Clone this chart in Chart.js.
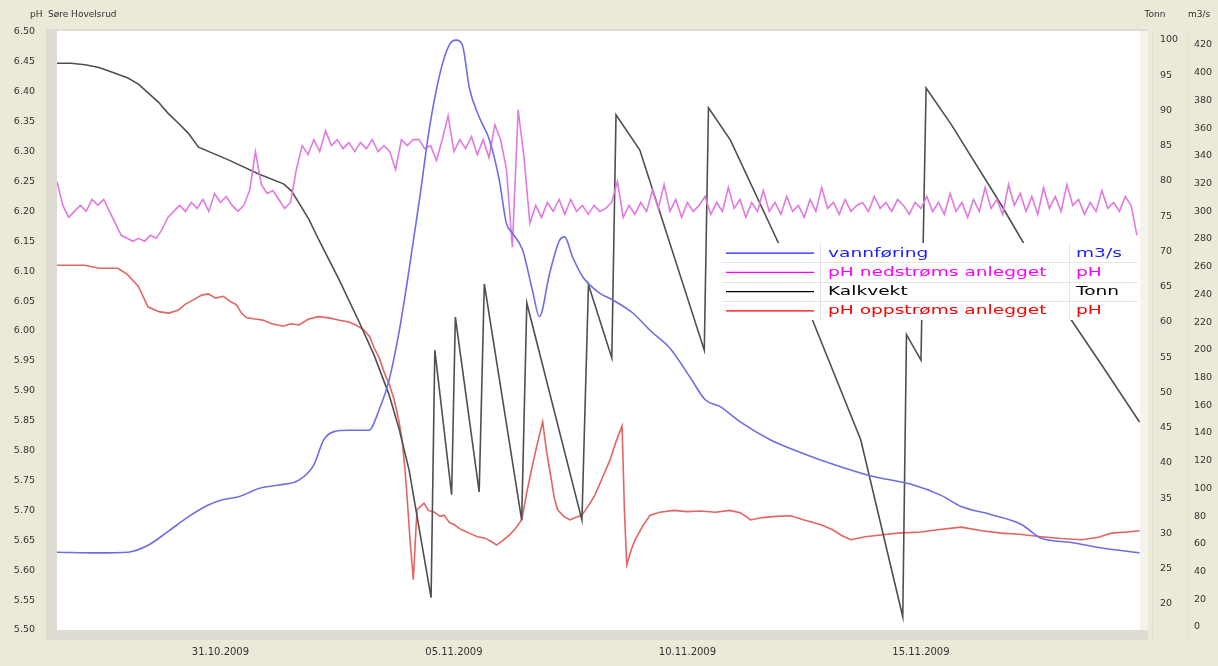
<!DOCTYPE html>
<html>
<head>
<meta charset="utf-8">
<script src="https://cdn.jsdelivr.net/npm/chart.js@4.4.1/dist/chart.umd.min.js"></script>
<style>
  html, body { margin: 0; padding: 0; background: #ECE9D8; }
  canvas { display: block; }
</style>
</head>
<body>
<canvas id="c" width="1218" height="666"></canvas>
<script>
// Time is in days counted from 31.10.2009 00:00.

// X axis ticks
const tickDays = [0, 5, 10, 15];
const tickLabels = ['31.10.2009', '05.11.2009', '10.11.2009', '15.11.2009'];

// Y axis ticks
const phTicks = [5.50, 5.55, 5.60, 5.65, 5.70, 5.75, 5.80, 5.85, 5.90, 5.95, 6.00,
                 6.05, 6.10, 6.15, 6.20, 6.25, 6.30, 6.35, 6.40, 6.45, 6.50];
const tonnTicks = [20, 25, 30, 35, 40, 45, 50, 55, 60, 65, 70, 75, 80, 85, 90, 95, 100];
const flowTicks = [0, 20, 40, 60, 80, 100, 120, 140, 160, 180, 200, 220, 240, 260,
                   280, 300, 320, 340, 360, 380, 400, 420];

// Legend
const seriesNames = ['vannføring', 'pH nedstrøms anlegget', 'Kalkvekt', 'pH oppstrøms anlegget'];
const seriesUnits = ['m3/s', 'pH', 'Tonn', 'pH'];

// vannføring (m3/s)
const flowT = [-3.5, -2.62, -1.98, -1.55, -1.12, -0.69, -0.26, 0.06, 0.39, 0.82,
               1.25, 1.68, 2.0, 2.21, 2.43, 2.75, 3.18, 3.40, 3.61, 3.83,
               4.04, 4.26, 4.47, 4.69, 4.90, 5.05, 5.18, 5.33, 5.54, 5.76,
               5.97, 6.12, 6.25, 6.47, 6.68, 6.83, 7.05, 7.26, 7.37, 7.54,
               7.76, 8.12, 8.40, 8.83, 9.20, 9.63, 10.06, 10.38, 10.70, 11.13,
               11.78, 12.42, 13.07, 13.93, 14.79, 15.43, 15.86, 16.51, 17.15, 17.58,
               18.22, 18.87, 19.68];
const flowQ = [54, 53.5, 54, 59, 69, 79.5, 88, 92, 94, 100,
               102.5, 106, 117, 135, 141, 142, 142, 157, 178, 214,
               258, 308, 359, 398, 420, 423.5, 420, 389, 368, 351.5,
               322.6, 291.6, 284.4, 272, 243, 224, 255.5, 279, 281.5, 267,
               252.6, 241, 236, 226.6, 214, 201, 180, 164, 159, 148,
               135, 126, 118, 109, 103, 95, 87, 81, 74, 64,
               61, 57, 53.5];

// pH nedstrøms anlegget, logged every 3 hours from 27.10.2009 12:00
const downStart = -3.5;
const downStep = 0.125;
const downPH = [
  6.25, 6.21, 6.19, 6.20, 6.21, 6.20, 6.22, 6.21, 6.22, 6.20,
  6.18, 6.16, 6.155, 6.15, 6.155, 6.15, 6.16, 6.155, 6.17, 6.19,
  6.20, 6.21, 6.20, 6.215, 6.205, 6.22, 6.20, 6.23, 6.215, 6.225,
  6.21, 6.20, 6.21, 6.235, 6.30, 6.245, 6.23, 6.235, 6.22, 6.205,
  6.215, 6.27, 6.31, 6.295, 6.32, 6.30, 6.335, 6.31, 6.32, 6.305,
  6.315, 6.30, 6.315, 6.305, 6.32, 6.30, 6.31, 6.30, 6.27, 6.32,
  6.31, 6.32, 6.32, 6.305, 6.31, 6.285, 6.32, 6.36, 6.30, 6.32,
  6.305, 6.325, 6.295, 6.32, 6.29, 6.345, 6.32, 6.27, 6.14, 6.37,
  6.29, 6.18, 6.21, 6.19, 6.215, 6.20, 6.22, 6.195, 6.22, 6.20,
  6.21, 6.195, 6.21, 6.20, 6.205, 6.215, 6.25, 6.19, 6.21, 6.195,
  6.215, 6.20, 6.235, 6.205, 6.245, 6.20, 6.22, 6.19, 6.215, 6.20,
  6.21, 6.225, 6.195, 6.215, 6.20, 6.24, 6.205, 6.22, 6.19, 6.215,
  6.20, 6.235, 6.20, 6.215, 6.195, 6.225, 6.20, 6.21, 6.19, 6.22,
  6.20, 6.24, 6.205, 6.215, 6.195, 6.22, 6.20, 6.21, 6.215, 6.20,
  6.225, 6.205, 6.215, 6.20, 6.22, 6.21, 6.195, 6.215, 6.205, 6.225,
  6.20, 6.215, 6.195, 6.23, 6.20, 6.215, 6.19, 6.22, 6.20, 6.24,
  6.205, 6.22, 6.195, 6.245, 6.21, 6.23, 6.20, 6.225, 6.195, 6.24,
  6.205, 6.225, 6.20, 6.245, 6.21, 6.22, 6.195, 6.215, 6.20, 6.235,
  6.205, 6.215, 6.20, 6.225, 6.21, 6.16
];

// Kalkvekt (Tonn)
const limeT = [-3.5, -3.2, -2.9, -2.6, -2.3, -1.98, -1.75, -1.55, -1.33, -1.12,
               -0.9, -0.69, -0.47, 0.17, 0.82, 1.35, 1.52, 1.68, 1.9, 2.11,
               2.54, 2.97, 3.29, 3.61, 3.83, 4.04, 4.26, 4.51, 4.59, 4.95,
               5.03, 5.54, 5.65, 6.45, 6.56, 7.74, 7.88, 8.38, 8.47, 8.98,
               10.36, 10.45, 10.92, 12.42, 13.71, 14.61, 14.69, 15.00, 15.11, 15.65,
               16.72, 17.79, 18.87, 19.68];
const limeTonn = [96.7, 96.7, 96.5, 96.1, 95.4, 94.6, 93.7, 92.5, 91.2, 89.6,
                  88.2, 86.8, 84.8, 83.0, 81.0, 79.6, 78.6, 76.9, 74.5, 71.6,
                  66.0, 60.0, 55.3, 49.7, 44.7, 39.0, 30.5, 20.9, 56.0, 35.5,
                  60.7, 35.9, 65.4, 31.9, 62.7, 31.9, 65.3, 54.9, 89.4, 84.4,
                  56.0, 90.4, 85.8, 64.5, 43.3, 18.2, 58.2, 54.6, 93.2, 88.0,
                  76.6, 64.5, 53.9, 45.8];

// pH oppstrøms anlegget
const upT = [-3.5, -2.9, -2.6, -2.2, -2.0, -1.76, -1.55, -1.3, -1.1, -0.9,
             -0.75, -0.58, -0.4, -0.26, -0.1, 0.06, 0.2, 0.34, 0.45, 0.56,
             0.75, 0.92, 1.1, 1.35, 1.5, 1.68, 1.89, 2.1, 2.32, 2.55,
             2.75, 2.9, 3.07, 3.2, 3.29, 3.4, 3.51, 3.62, 3.72, 3.82,
             3.89, 3.95, 4.0, 4.06, 4.13, 4.18, 4.21, 4.3, 4.36, 4.45,
             4.58, 4.7, 4.79, 4.9, 5.01, 5.15, 5.33, 5.5, 5.65, 5.8,
             5.91, 6.05, 6.19, 6.3, 6.45, 6.56, 6.66, 6.78, 6.9, 6.98,
             7.05, 7.15, 7.22, 7.35, 7.48, 7.6, 7.74, 7.9, 8.02, 8.18,
             8.34, 8.47, 8.6, 8.65, 8.7, 8.8, 8.88, 9.05, 9.2, 9.41,
             9.7, 10.0, 10.27, 10.6, 10.9, 11.13, 11.25, 11.35, 11.6, 11.9,
             12.21, 12.5, 12.86, 13.1, 13.3, 13.5, 13.8, 14.14, 14.5, 15.0,
             15.4, 15.86, 16.3, 16.72, 17.1, 17.58, 18.0, 18.44, 18.8, 19.08,
             19.4, 19.68];
const upPH = [6.11, 6.11, 6.105, 6.105, 6.095, 6.075, 6.04, 6.032, 6.03, 6.035,
              6.045, 6.052, 6.06, 6.062, 6.055, 6.058, 6.05, 6.044, 6.03, 6.022,
              6.02, 6.018, 6.012, 6.008, 6.012, 6.01, 6.02, 6.024, 6.022, 6.018,
              6.015, 6.01, 6.002, 5.99, 5.972, 5.955, 5.93, 5.91, 5.885, 5.85,
              5.818, 5.77, 5.718, 5.65, 5.584, 5.66, 5.701, 5.708, 5.712, 5.70,
              5.697, 5.69, 5.692, 5.68, 5.676, 5.668, 5.662, 5.656, 5.654, 5.648,
              5.642, 5.65, 5.659, 5.668, 5.684, 5.73, 5.768, 5.81, 5.848, 5.80,
              5.768, 5.72, 5.701, 5.69, 5.684, 5.688, 5.692, 5.71, 5.726, 5.755,
              5.784, 5.815, 5.841, 5.70, 5.609, 5.635, 5.651, 5.675, 5.692, 5.697,
              5.70, 5.698, 5.699, 5.697, 5.70, 5.696, 5.69, 5.684, 5.688, 5.69,
              5.691, 5.684, 5.676, 5.668, 5.658, 5.651, 5.656, 5.659, 5.662, 5.664,
              5.668, 5.672, 5.666, 5.662, 5.66, 5.656, 5.653, 5.651, 5.655, 5.662,
              5.664, 5.666];

const FONT = '"DejaVu Sans", Verdana, sans-serif';
const lineColors = ['#6e6ee4', '#e07ae0', '#4f4f4f', '#e46464'];
const legendColors = ['#1c1cff', '#ff00ff', '#000000', '#ff0000'];

const pairs = (ts, vs) => ts.map((t, i) => ({ x: t, y: vs[i] }));
const downPts = downPH.map((v, i) => ({ x: downStart + i * downStep, y: v }));

const fixedTicks = (vals) => (scale) => { scale.ticks = vals.map(v => ({ value: v })); };
const fixedWidth = (w) => (scale) => { scale.width = w; };

// Window frame and white plotting field
const framePlugin = {
  id: 'framePlugin',
  beforeDraw(chart) {
    const { ctx, chartArea: a, width, height } = chart;
    ctx.save();
    ctx.fillStyle = '#ECE9D8';
    ctx.fillRect(0, 0, width, height);
    ctx.fillStyle = '#dddbd2';
    ctx.fillRect(a.left - 11, a.top - 2, a.right - a.left + 19, a.bottom - a.top + 12);
    ctx.fillStyle = '#f4f3ee';
    ctx.fillRect(a.right, a.top, 8, a.bottom - a.top);
    ctx.fillStyle = '#ffffff';
    ctx.fillRect(a.left, a.top, a.right - a.left, a.bottom - a.top);
    ctx.strokeStyle = '#e2e0d6';
    ctx.lineWidth = 1;
    ctx.beginPath();
    ctx.moveTo(1152.5, a.top); ctx.lineTo(1152.5, a.bottom + 10);
    ctx.moveTo(1187.5, a.top); ctx.lineTo(1187.5, a.bottom + 10);
    ctx.stroke();
    ctx.restore();
  },
  afterDraw(chart) {
    const ctx = chart.ctx;
    ctx.save();
    ctx.font = '9px ' + FONT;
    ctx.fillStyle = '#333';
    ctx.textBaseline = 'middle';
    ctx.textAlign = 'left';
    ctx.fillText('pH', 30, 15);
    ctx.fillText('Søre Hovelsrud', 48, 15);
    ctx.textAlign = 'center';
    ctx.fillText('Tonn', 1155, 15);
    ctx.fillText('m3/s', 1199, 15);
    ctx.restore();
  }
};

// Legend table drawn on top of the curves
const tablePlugin = {
  id: 'tablePlugin',
  afterDatasetsDraw(chart) {
    const ctx = chart.ctx;
    const L = 722, R = 1138, T = 243, rowH = 19.25;
    const c1 = 820, c2 = 1069;
    const n = chart.data.datasets.length;
    ctx.save();
    ctx.fillStyle = '#ffffff';
    ctx.fillRect(L, T, R - L, rowH * n);
    ctx.strokeStyle = '#e4e4e4';
    ctx.lineWidth = 1;
    ctx.beginPath();
    for (let i = 1; i < n; i++) {
      const y = Math.round(T + rowH * i) + 0.5;
      ctx.moveTo(L, y); ctx.lineTo(R, y);
    }
    ctx.moveTo(c1 + 0.5, T); ctx.lineTo(c1 + 0.5, T + rowH * n);
    ctx.moveTo(c2 + 0.5, T); ctx.lineTo(c2 + 0.5, T + rowH * n);
    ctx.stroke();
    ctx.font = '13px ' + FONT;
    ctx.textBaseline = 'middle';
    ctx.textAlign = 'left';
    chart.data.datasets.forEach((ds, i) => {
      const yc = T + rowH * i + rowH / 2 + 0.5;
      ctx.strokeStyle = legendColors[i];
      ctx.lineWidth = 1.3;
      ctx.beginPath();
      ctx.moveTo(L + 4, yc); ctx.lineTo(c1 - 6, yc);
      ctx.stroke();
      ctx.fillStyle = legendColors[i];
      ctx.save();
      ctx.translate(c1 + 8, yc);
      ctx.scale(1.43, 1);
      ctx.fillText(ds.label, 0, 0);
      ctx.restore();
      ctx.save();
      ctx.translate(c2 + 7, yc);
      ctx.scale(1.43, 1);
      ctx.fillText(seriesUnits[i], 0, 0);
      ctx.restore();
    });
    ctx.restore();
  }
};

const lineDefaults = { borderWidth: 1.6, pointRadius: 0, tension: 0, fill: false };

new Chart(document.getElementById('c'), {
  type: 'line',
  data: {
    datasets: [
      { ...lineDefaults, label: seriesNames[0], data: pairs(flowT, flowQ), borderColor: lineColors[0], yAxisID: 'flow', cubicInterpolationMode: 'monotone' },
      { ...lineDefaults, label: seriesNames[1], data: downPts, borderColor: lineColors[1], yAxisID: 'ph' },
      { ...lineDefaults, label: seriesNames[2], data: pairs(limeT, limeTonn), borderColor: lineColors[2], yAxisID: 'tonn' },
      { ...lineDefaults, label: seriesNames[3], data: pairs(upT, upPH), borderColor: lineColors[3], yAxisID: 'ph' }
    ]
  },
  options: {
    responsive: false,
    animation: false,
    parsing: false,
    normalized: true,
    layout: { padding: { top: 31, left: 0, right: 0, bottom: 0 } },
    plugins: { legend: { display: false }, tooltip: { enabled: false } },
    scales: {
      x: {
        type: 'linear', min: -3.5, max: 19.69,
        grid: { display: false, drawTicks: false }, border: { display: false },
        afterBuildTicks: fixedTicks(tickDays),
        afterFit: (s) => { s.height = 36; },
        ticks: {
          autoSkip: false, maxRotation: 0, padding: 16,
          font: { family: FONT, size: 10 }, color: '#333',
          callback: (v) => tickLabels[tickDays.indexOf(v)]
        }
      },
      ph: {
        position: 'left', min: 5.5, max: 6.5017,
        grid: { display: false, drawTicks: false }, border: { display: false },
        afterBuildTicks: fixedTicks(phTicks),
        afterFit: fixedWidth(57),
        ticks: {
          padding: 22, font: { family: FONT, size: 9.5 }, color: '#333',
          callback: (v) => v.toFixed(2)
        }
      },
      tonn: {
        position: 'right', weight: 0, min: 16.31, max: 101.28,
        grid: { display: false, drawTicks: false }, border: { display: false },
        afterBuildTicks: fixedTicks(tonnTicks),
        afterFit: fixedWidth(40),
        ticks: {
          padding: 20, font: { family: FONT, size: 9.5 }, color: '#333',
          callback: (v) => String(v)
        }
      },
      flow: {
        position: 'right', weight: 1, min: -2.16, max: 430.1,
        grid: { display: false, drawTicks: false }, border: { display: false },
        afterBuildTicks: fixedTicks(flowTicks),
        afterFit: fixedWidth(38),
        ticks: {
          padding: 14, font: { family: FONT, size: 9.5 }, color: '#333',
          callback: (v) => String(v)
        }
      }
    }
  },
  plugins: [framePlugin, tablePlugin]
});
</script>
</body>
</html>
